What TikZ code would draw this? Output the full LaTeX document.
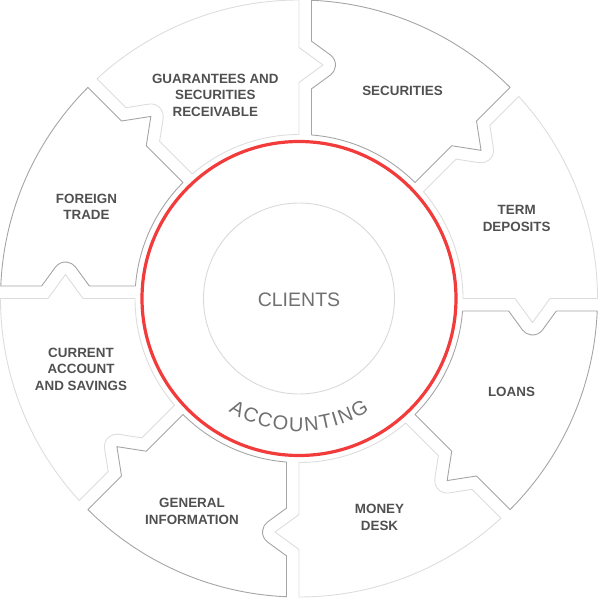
\documentclass[tikz,border=0pt]{standalone}
\usepackage{fontspec}
\setmainfont{Liberation Sans}
\usetikzlibrary{decorations.text}

\definecolor{piecedark}{HTML}{A5A5A5}
\definecolor{piecelight}{HTML}{DDDDDD}
\definecolor{ringred}{HTML}{F23B3B}
\definecolor{labelgray}{HTML}{505050}
\definecolor{centergray}{HTML}{707070}
\definecolor{innergray}{HTML}{D9D9D9}

% one puzzle piece between 0 and 45 degrees, tab on the lower edge
\newcommand{\piece}{(0:164) -- (216,0) -- (233.5,-24) -- (251,0) -- (0:298.5)
  arc[start angle=0, end angle=42.6, radius=298.5]
  {[rotate=45] -- (257.35,-12.5) -- (243.6,-31.36)
    arc[start angle=-36.1, end angle=-143.9, radius=12.5]
    -- (209.65,-12.5) -- (163.52,-12.5)}
  arc[start angle=40.63, end angle=0, radius=164] -- cycle}

\begin{document}
\begin{tikzpicture}[x=1pt, y=1pt,
    darkpiece/.style={draw=piecedark, line width=0.9pt, line join=round},
    lightpiece/.style={draw=piecelight, line width=0.9pt, line join=round},
    piecelabel/.style={text=labelgray, align=center,
      font=\fontsize{13.4}{16.7}\selectfont\bfseries}]
    \useasboundingbox (-299,-298.5) rectangle (300,298.5);
    \draw[lightpiece, rotate=0] \piece;
    \draw[darkpiece, rotate=45] \piece;
    \draw[lightpiece, rotate=90] \piece;
    \draw[darkpiece, rotate=135] \piece;
    \draw[lightpiece, rotate=180] \piece;
    \draw[darkpiece, rotate=225] \piece;
    \draw[lightpiece, rotate=270] \piece;
    \draw[darkpiece, rotate=315] \piece;
    \draw[ringred, line width=3.2pt] (0,0) circle (157);
    \draw[innergray, line width=0.9pt] (0,0) circle (95.5);
    \node[text=centergray, font=\fontsize{19.5}{19.5}\selectfont] (clients) at (0,-1.5) {CLIENTS};
    \path[decorate, decoration={text along path, text align=fit to path,
      text={|\fontsize{20}{20}\selectfont\color{centergray}|ACCOUNTING}}]
      (238:133) arc[start angle=238, end angle=302, radius=133];
    \node[piecelabel] (securities) at (103.5,207.5) {SECURITIES};
    \node[piecelabel] (termdeposits) at (217.7,80.2) {TERM\\DEPOSITS};
    \node[piecelabel] (loans) at (212.5,-93.5) {LOANS};
    \node[piecelabel] (moneydesk) at (80.5,-219) {MONEY\\DESK};
    \node[piecelabel] (geninfo) at (-107,-212.7) {GENERAL\\INFORMATION};
    \node[piecelabel] (current) at (-218,-70.8) {CURRENT\\ACCOUNT\\AND SAVINGS};
    \node[piecelabel] (foreign) at (-212.5,91.8) {FOREIGN\\TRADE};
    \node[piecelabel] (guarantees) at (-83.7,203.2) {GUARANTEES AND\\SECURITIES\\RECEIVABLE};
\end{tikzpicture}
\end{document}
